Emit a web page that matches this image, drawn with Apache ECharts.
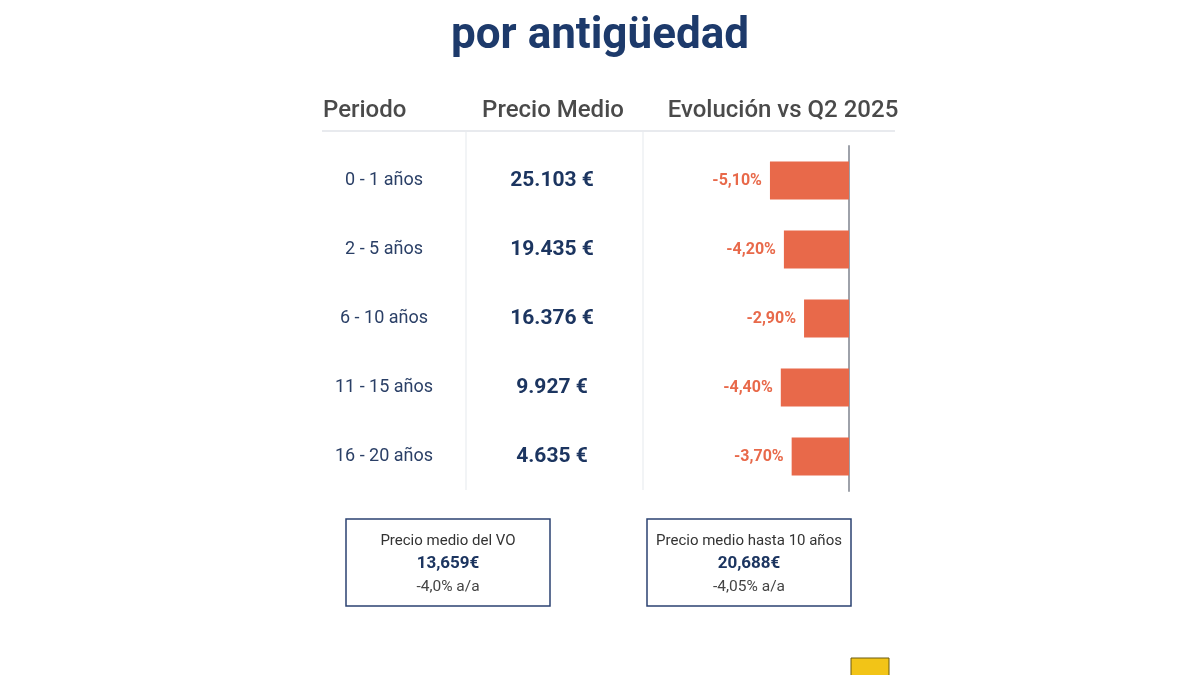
<!DOCTYPE html>
<html>
<head>
<meta charset="utf-8">
<script src="https://cdn.jsdelivr.net/npm/echarts@6/dist/echarts.min.js"></script>
<style>
  html, body { margin: 0; padding: 0; background: #fff; }
  #main { width: 1200px; height: 675px; }
</style>
</head>
<body>
<div id="main"></div>
<script>
// data
var periods = ['0 - 1 años', '2 - 5 años', '6 - 10 años', '11 - 15 años', '16 - 20 años'];
var prices = [25103, 19435, 16376, 9927, 4635];
var evolution = [-5.1, -4.2, -2.9, -4.4, -3.7];
var headers = ['Periodo', 'Precio Medio', 'Evolución vs Q2 2025'];
var summaryLabels = ['Precio medio del VO', 'Precio medio hasta 10 años'];
var summaryValues = ['13,659€', '20,688€'];
var summaryChanges = ['-4,0% a/a', '-4,05% a/a'];

var FONT = 'Roboto, "Noto Sans", sans-serif';
var NAVY = '#1c3560';
var ORANGE = '#e8694a';

function fmtPrice(n) {
    return String(n).replace(/\B(?=(\d{3})+(?!\d))/g, '.') + ' €';
}
function fmtPct(v) {
    return v.toFixed(2).replace('.', ',') + '%';
}

var chartDom = document.getElementById('main');
var myChart = echarts.init(chartDom);
var option;

// boxes at the bottom
var boxes = summaryLabels.map(function (lab, i) {
    var cx = [448, 749][i];
    return {
        type: 'group',
        children: [
            { type: 'rect', shape: { x: cx - 102, y: 519, width: 204, height: 87 },
              style: { fill: '#fff', stroke: '#2b4272', lineWidth: 1.5 } },
            { type: 'text', x: cx, y: 541, style: { text: lab, font: '15px ' + FONT, fill: '#333',
              textAlign: 'center', textVerticalAlign: 'middle' } },
            { type: 'text', x: cx, y: 564, style: { text: summaryValues[i], font: 'bold 17px ' + FONT, fill: NAVY,
              textAlign: 'center', textVerticalAlign: 'middle' } },
            { type: 'text', x: cx, y: 587, style: { text: summaryChanges[i], font: '15.5px ' + FONT, fill: '#444',
              textAlign: 'center', textVerticalAlign: 'middle' } }
        ]
    };
});

option = {
    backgroundColor: '#fff',
    title: {
        text: 'por antigüedad',
        left: 'center',
        top: 10,
        textStyle: { fontFamily: FONT, fontSize: 44, fontWeight: 'bold', color: '#1d3a6b' }
    },
    grid: {
        left: 756,
        right: 351,
        top: 146,
        height: 345
    },
    xAxis: {
        type: 'value',
        min: -6,
        max: 0,
        show: false
    },
    yAxis: [
        {
            type: 'category',
            data: periods,
            inverse: true,
            position: 'right',
            axisLine: { show: true, lineStyle: { color: '#9ea2aa', width: 2 } },
            axisTick: { show: false },
            axisLabel: { show: false }
        },
        {
            type: 'category',
            data: periods,
            inverse: true,
            position: 'left',
            axisLine: { show: false },
            axisTick: { show: false },
            axisLabel: { margin: 372, align: 'center', fontFamily: FONT, fontSize: 18, color: '#2a3f66' }
        },
        {
            type: 'category',
            data: prices.map(fmtPrice),
            inverse: true,
            position: 'left',
            axisLine: { show: false },
            axisTick: { show: false },
            axisLabel: { margin: 204, align: 'center', fontFamily: FONT, fontSize: 21, fontWeight: 'bold', color: NAVY }
        }
    ],
    series: [
        {
            name: 'Evolución',
            type: 'bar',
            yAxisIndex: 0,
            barWidth: 38,
            itemStyle: { color: ORANGE },
            label: {
                show: true,
                position: 'left',
                distance: 8,
                formatter: function (p) { return fmtPct(p.value); },
                fontFamily: FONT,
                fontSize: 16,
                fontWeight: 'bold',
                color: ORANGE
            },
            data: evolution
        }
    ],
    graphic: [
        { type: 'text', x: 323, y: 111, style: { text: headers[0], font: '500 24px ' + FONT, fill: '#4a4a4a',
          textAlign: 'left', textVerticalAlign: 'middle' } },
        { type: 'text', x: 553, y: 111, style: { text: headers[1], font: '500 24px ' + FONT, fill: '#4a4a4a',
          textAlign: 'center', textVerticalAlign: 'middle' } },
        { type: 'text', x: 783, y: 111, style: { text: headers[2], font: '500 24px ' + FONT, fill: '#4a4a4a',
          textAlign: 'center', textVerticalAlign: 'middle' } },
        { type: 'line', shape: { x1: 322, y1: 131, x2: 895, y2: 131 }, style: { stroke: '#e8eaee', lineWidth: 2 } },
        { type: 'line', shape: { x1: 466, y1: 132, x2: 466, y2: 490 }, style: { stroke: '#eef0f3', lineWidth: 1.5 } },
        { type: 'line', shape: { x1: 643, y1: 132, x2: 643, y2: 490 }, style: { stroke: '#eef0f3', lineWidth: 1.5 } },
        { type: 'rect', shape: { x: 851, y: 658, width: 38, height: 20 },
          style: { fill: '#f2c417', stroke: '#6b5a10', lineWidth: 1 } }
    ].concat(boxes)
};

option && myChart.setOption(option);
</script>
</body>
</html>
